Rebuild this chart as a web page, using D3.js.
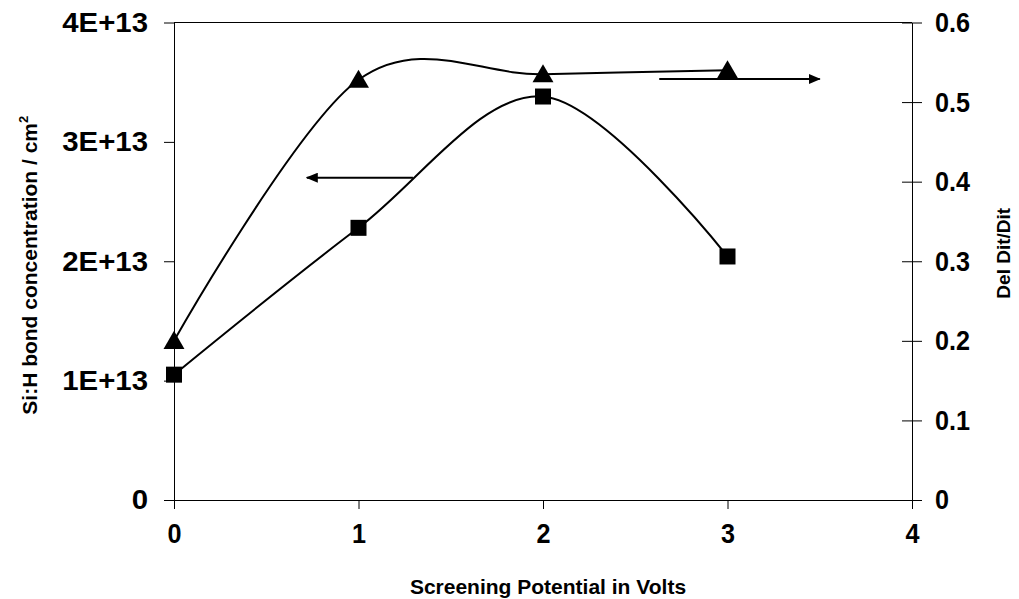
<!DOCTYPE html>
<html>
<head>
<meta charset="utf-8">
<script src="https://cdn.jsdelivr.net/npm/d3@7"></script>
<style>
  html, body { margin: 0; padding: 0; background: #fff; }
  svg { display: block; }
  text { font-family: "Liberation Sans", Arial, sans-serif; font-weight: bold; fill: #000; }
</style>
</head>
<body>
<svg id="chart" width="1019" height="599"></svg>
<script>
// Screening potential (V)
const potentials = [0, 1, 2, 3];
// Si:H bond concentration (cm^-2), left axis
const sihConcentration = [1.05e13, 2.28e13, 3.38e13, 2.04e13];
// Del Dit / Dit, right axis
const delDitRatio = [0.2, 0.528, 0.535, 0.54];

const xTicks = [0, 1, 2, 3, 4];
const leftTicks = [0, 1e13, 2e13, 3e13, 4e13];
const leftTickLabels = ["0", "1E+13", "2E+13", "3E+13", "4E+13"];
const rightTicks = [0, 0.1, 0.2, 0.3, 0.4, 0.5, 0.6];

// Arrow annotations showing which axis each curve belongs to (data units)
const leftArrow = { from: [1.295, 2.70e13], to: [0.72, 2.70e13] };
const rightArrow = { from: [2.63, 0.529], to: [3.5, 0.529] };

const svg = d3.select("#chart");
const plot = { left: 174, right: 912, top: 22.5, bottom: 500 };

const x = d3.scaleLinear().domain([0, 4]).range([plot.left, plot.right]);
const yL = d3.scaleLinear().domain([0, 4e13]).range([plot.bottom, plot.top]);
const yR = d3.scaleLinear().domain([0, 0.6]).range([plot.bottom, plot.top]);

// Squeeze or stretch tick labels horizontally around their anchor point
function styleTickText(sel, size, sx) {
  sel.each(function () {
    const t = d3.select(this);
    const tx = +t.attr("x") || 0;
    t.attr("x", 0)
      .attr("transform", `translate(${tx},0) scale(${sx},1)`)
      .style("font-size", size + "px");
  });
}

// top frame line
svg.append("line")
  .attr("x1", plot.left).attr("x2", plot.right)
  .attr("y1", plot.top).attr("y2", plot.top)
  .attr("stroke", "#000").attr("stroke-width", 1);

// bottom axis
const gx = svg.append("g").attr("transform", `translate(0,${plot.bottom})`)
  .call(d3.axisBottom(x).tickValues(xTicks).tickFormat(d3.format("d")).tickSize(9).tickSizeOuter(0).tickPadding(14));
styleTickText(gx.selectAll("text"), 28, 0.9);

// left axis
const gl = svg.append("g").attr("transform", `translate(${plot.left},0)`)
  .call(d3.axisLeft(yL).tickValues(leftTicks).tickFormat((d, i) => leftTickLabels[i]).tickSize(10).tickSizeOuter(0).tickPadding(16));
styleTickText(gl.selectAll("text"), 28, 1.05);

// right axis with ticks crossing the line
const gr = svg.append("g").attr("transform", `translate(${plot.right},0)`)
  .call(d3.axisRight(yR).tickValues(rightTicks).tickFormat(d => d === 0 ? "0" : d3.format(".1f")(d)).tickSize(10).tickSizeOuter(0).tickPadding(13));
gr.selectAll(".tick line").attr("x1", -10);
styleTickText(gr.selectAll("text"), 28, 0.9);

svg.selectAll(".domain").attr("stroke", "#000").attr("stroke-width", 1);
svg.selectAll(".tick line").attr("stroke", "#000");

// axis titles
svg.append("text")
  .attr("x", 548).attr("y", 594)
  .attr("text-anchor", "middle").style("font-size", "21px")
  .text("Screening Potential in Volts");

const yTitle = svg.append("text")
  .attr("transform", `translate(37,${(plot.top + plot.bottom) / 2 + 4}) rotate(-90)`)
  .attr("text-anchor", "middle").style("font-size", "21px");
yTitle.append("tspan").text("Si:H bond concentration / cm");
yTitle.append("tspan").attr("dy", -9).style("font-size", "13px").text("2");

svg.append("text")
  .attr("transform", `translate(1010,${(plot.top + plot.bottom) / 2 - 8}) rotate(-90)`)
  .attr("text-anchor", "middle").style("font-size", "19px")
  .text("Del Dit/Dit");

// smoothed series lines
const curve = d3.curveCatmullRom.alpha(0);
const lineL = d3.line().x((d, i) => x(potentials[i])).y(d => yL(d)).curve(curve);
const lineR = d3.line().x((d, i) => x(potentials[i])).y(d => yR(d)).curve(curve);

svg.append("path").datum(sihConcentration).attr("d", lineL)
  .attr("fill", "none").attr("stroke", "#000").attr("stroke-width", 2);
svg.append("path").datum(delDitRatio).attr("d", lineR)
  .attr("fill", "none").attr("stroke", "#000").attr("stroke-width", 2);

// square markers
const sq = 16;
svg.selectAll("rect.sq").data(sihConcentration).join("rect").attr("class", "sq")
  .attr("x", (d, i) => x(potentials[i]) - sq / 2).attr("y", d => yL(d) - sq / 2)
  .attr("width", sq).attr("height", sq).attr("fill", "#000");

// triangle markers
const tri = d3.symbol().type(d3.symbolTriangle).size(190);
svg.selectAll("path.tri").data(delDitRatio).join("path").attr("class", "tri")
  .attr("transform", (d, i) => `translate(${x(potentials[i])},${yR(d) + 2})`)
  .attr("d", tri).attr("fill", "#000");

// arrow annotations
const defs = svg.append("defs");
defs.append("marker").attr("id", "head")
  .attr("viewBox", "0 0 12 10").attr("refX", 11).attr("refY", 5)
  .attr("markerWidth", 12).attr("markerHeight", 10).attr("markerUnits", "userSpaceOnUse")
  .attr("orient", "auto")
  .append("path").attr("d", "M0,0 L12,5 L0,10 Z").attr("fill", "#000");

svg.append("line")
  .attr("x1", x(leftArrow.from[0])).attr("y1", yL(leftArrow.from[1]))
  .attr("x2", x(leftArrow.to[0])).attr("y2", yL(leftArrow.to[1]))
  .attr("stroke", "#000").attr("stroke-width", 2).attr("marker-end", "url(#head)");
svg.append("line")
  .attr("x1", x(rightArrow.from[0])).attr("y1", yR(rightArrow.from[1]))
  .attr("x2", x(rightArrow.to[0])).attr("y2", yR(rightArrow.to[1]))
  .attr("stroke", "#000").attr("stroke-width", 2).attr("marker-end", "url(#head)");
</script>
</body>
</html>
